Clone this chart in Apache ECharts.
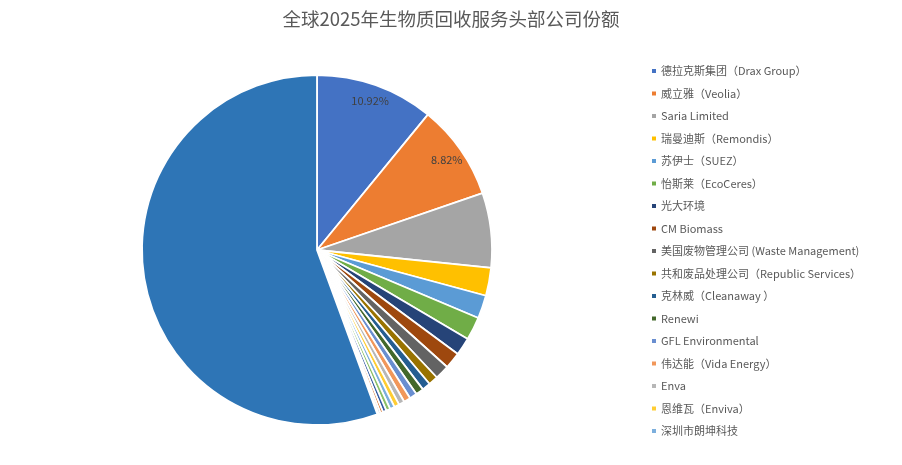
<!DOCTYPE html>
<html>
<head>
<meta charset="utf-8">
<script src="https://cdn.jsdelivr.net/npm/echarts@6/dist/echarts.min.js"></script>
<style>
html,body{margin:0;padding:0;background:#fff;}
#chart{width:902px;height:465px;}
</style>
</head>
<body>
<div id="chart"></div>
<script>
const titleText = '全球2025年生物质回收服务头部公司份额';
const companies = [
  '德拉克斯集团（Drax Group）',
  '威立雅（Veolia）',
  'Saria Limited',
  '瑞曼迪斯（Remondis）',
  '苏伊士（SUEZ）',
  '怡斯莱（EcoCeres）',
  '光大环境',
  'CM Biomass',
  '美国废物管理公司 (Waste Management)',
  '共和废品处理公司（Republic Services）',
  '克林威（Cleanaway ）',
  'Renewi',
  'GFL Environmental',
  '伟达能（Vida Energy）',
  'Enva',
  '恩维瓦（Enviva）',
  '深圳市朗坤科技',
  '其他企业A',
  '其他企业B',
  '其他企业C',
  '其他企业D',
  '其他企业E',
  '其他'
];
const shares = [10.92, 8.82, 6.89, 2.58, 2.14, 2.14, 1.64, 1.53, 1.33, 0.89,
  0.78, 0.73, 0.68, 0.63, 0.53, 0.48, 0.43, 0.38, 0.33, 0.24, 0.19, 0.12, 55.60];
const labelledCount = 2;
const legendCount = 17;
const colors = ['#4472C4','#ED7D31','#A5A5A5','#FFC000','#5B9BD5','#70AD47',
  '#264478','#9E480E','#636363','#997300','#255E91','#43682B',
  '#698ED0','#F1975A','#B7B7B7','#FFCD33','#7CAFDD','#8CC168',
  '#335AA1','#D26012','#848484','#CC9A00','#2E75B6'];

const font = '"Noto Sans CJK SC", "Noto Sans", sans-serif';
const data = companies.map((n, i) => ({ name: n, value: shares[i] }));
const labelData = companies.map((n, i) => ({
  name: n, value: shares[i],
  label: { show: i < labelledCount }
}));

const chart = echarts.init(document.getElementById('chart'));
chart.setOption({
  backgroundColor: '#ffffff',
  color: colors,
  animation: false,
  title: {
    text: titleText,
    left: 'center',
    top: 5,
    textStyle: { fontFamily: font, fontSize: 18.5, fontWeight: 'normal', color: '#595959' }
  },
  legend: {
    orient: 'vertical',
    left: 645,
    top: 59,
    data: companies.slice(0, legendCount),
    icon: 'rect',
    itemWidth: 6,
    itemHeight: 6,
    itemGap: 8.5,
    textStyle: { fontFamily: font, fontSize: 11, color: '#595959', lineHeight: 14, padding: [0,0,0,-1] }
  },
  series: [
    {
      type: 'pie',
      center: [317, 250],
      radius: [0, 175],
      startAngle: 90,
      clockwise: true,
      avoidLabelOverlap: false,
      label: { show: false },
      labelLine: { show: false },
      itemStyle: { borderColor: '#ffffff', borderWidth: 1.8 },
      emphasis: { disabled: true },
      data: data
    },
    {
      type: 'pie',
      center: [317, 250],
      radius: [135, 175],
      startAngle: 90,
      clockwise: true,
      silent: true,
      avoidLabelOverlap: false,
      itemStyle: { color: 'rgba(0,0,0,0)' },
      label: {
        position: 'inside',
        formatter: p => p.value.toFixed(2) + '%',
        fontFamily: font,
        fontSize: 11,
        color: '#404040'
      },
      labelLine: { show: false },
      emphasis: { disabled: true },
      data: labelData
    }
  ]
});
</script>
</body>
</html>
